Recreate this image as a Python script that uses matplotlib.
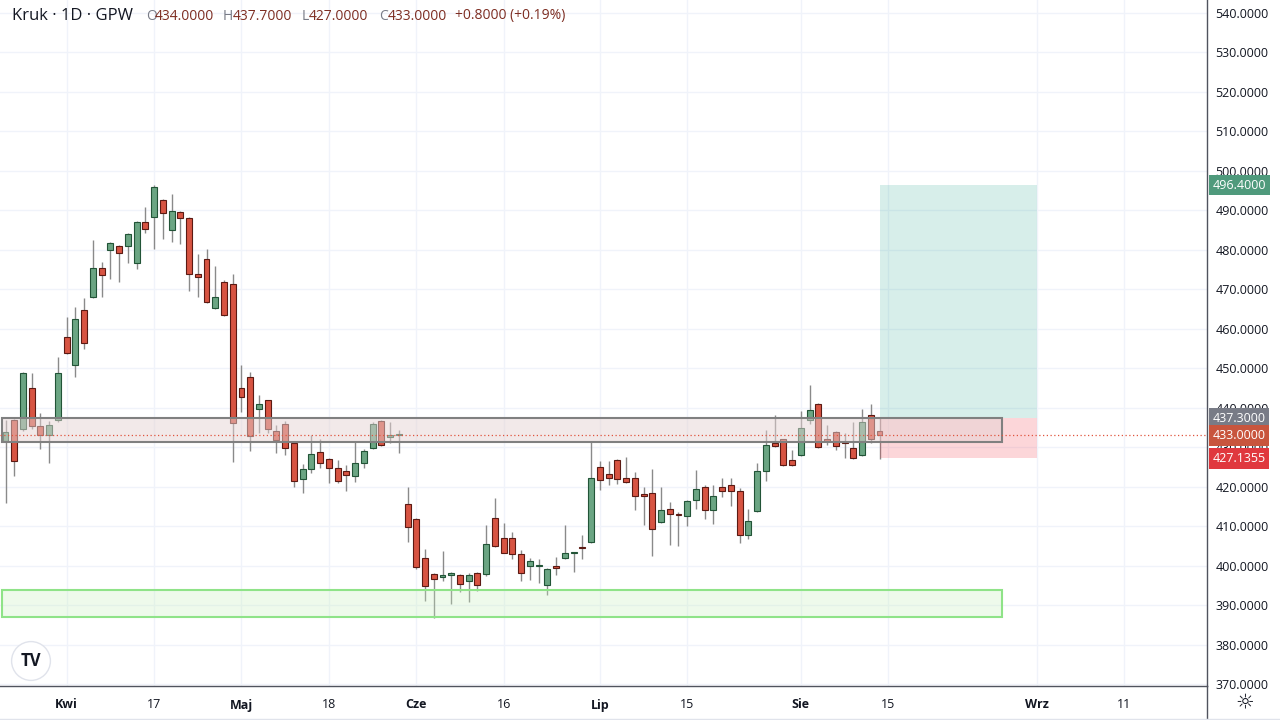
import matplotlib.pyplot as plt
import matplotlib.transforms as mtransforms
from matplotlib.patches import Rectangle
from matplotlib.lines import Line2D
import numpy as np

plt.rcParams['font.family'] = ['Open Sans', 'DejaVu Sans']

# daily candles, Kruk (GPW), oldest first
opens = [431.5, 436.8, 434.7, 444.9, 435.4, 433.0, 436.8, 458.0, 450.8, 464.8,
         468.1, 475.5, 479.9, 481.0, 481.0, 476.6, 487.0, 488.3, 492.5, 484.9,
         489.7, 488.1, 473.9, 477.6, 465.3, 471.9, 471.4, 445.0, 447.8, 439.7,
         441.9, 434.1, 435.9, 431.1, 422.0, 424.4, 428.8, 427.0, 424.8, 423.9,
         422.8, 426.0, 429.7, 436.7, 432.6, 433.0, 415.5, 411.8, 401.9, 397.9,
         397.2, 397.6, 397.5, 396.0, 398.1, 398.0, 412.0, 407.1, 407.1, 403.0,
         399.9, 400.0, 395.2, 400.0, 402.0, 403.2, 404.5, 406.0, 425.1, 423.1,
         426.8, 422.1, 422.1, 418.1, 418.4, 411.0, 414.4, 413.2, 412.6, 416.5,
         419.9, 414.0, 419.9, 420.3, 418.9, 407.7, 413.8, 424.0, 431.1, 432.0,
         426.8, 427.9, 437.0, 441.0, 432.2, 433.9, 431.3, 429.9, 427.9, 438.1,
         434.0]
highs = [437.0, 437.2, 449.0, 448.7, 438.6, 436.6, 452.8, 463.0, 465.6, 467.9,
         482.4, 477.0, 482.0, 481.2, 484.2, 487.2, 490.9, 496.4, 493.0, 494.2,
         489.9, 488.3, 479.0, 480.3, 476.0, 472.3, 473.9, 450.9, 449.0, 443.1,
         442.0, 435.5, 436.6, 431.3, 425.8, 433.2, 432.0, 427.2, 426.7, 425.5,
         431.3, 429.6, 436.4, 437.0, 436.5, 434.3, 420.0, 412.0, 404.1, 398.1,
         403.8, 398.5, 398.0, 398.2, 398.3, 410.2, 417.1, 410.8, 408.5, 404.0,
         402.0, 401.6, 399.3, 402.2, 410.4, 403.5, 407.8, 431.3, 426.4, 426.4,
         427.0, 427.4, 423.8, 420.0, 424.5, 419.8, 416.2, 413.5, 416.6, 424.1,
         420.4, 420.4, 422.3, 422.1, 419.6, 414.3, 426.1, 434.3, 438.1, 432.2,
         429.2, 439.2, 445.7, 441.2, 435.5, 434.1, 433.7, 436.4, 439.6, 441.0,
         437.7]
lows = [415.9, 422.8, 434.0, 434.7, 429.5, 425.9, 436.5, 453.6, 447.7, 454.8,
        467.8, 468.0, 472.7, 471.8, 476.6, 475.2, 484.3, 480.1, 482.8, 482.0,
        481.5, 469.5, 468.0, 466.6, 465.0, 463.2, 426.2, 438.9, 429.0, 433.7,
        433.7, 428.6, 428.0, 419.8, 418.4, 423.5, 424.7, 421.0, 421.0, 418.9,
        421.2, 424.8, 429.5, 430.3, 431.1, 428.6, 406.0, 399.2, 391.0, 386.7,
        396.0, 390.4, 393.4, 390.8, 393.6, 397.3, 404.7, 403.1, 401.6, 396.1,
        396.3, 395.5, 392.5, 397.6, 401.8, 398.4, 401.6, 405.8, 419.2, 420.4,
        420.8, 421.0, 414.2, 410.2, 402.4, 410.8, 405.2, 405.0, 410.0, 414.3,
        411.7, 410.6, 417.5, 415.1, 405.8, 406.8, 413.6, 421.4, 430.1, 425.3,
        425.3, 427.7, 435.8, 429.8, 430.5, 429.3, 427.3, 427.1, 427.7, 431.0,
        427.0]
closes = [433.9, 426.4, 448.9, 435.4, 433.0, 435.7, 448.7, 453.9, 462.5, 456.4,
          475.5, 473.5, 481.8, 479.2, 484.0, 487.0, 485.4, 496.0, 489.4, 489.9,
          488.1, 473.9, 473.1, 466.8, 468.1, 463.4, 436.2, 442.8, 432.9, 440.9,
          434.7, 431.9, 429.8, 421.5, 424.5, 428.2, 426.0, 424.8, 421.4, 422.9,
          426.0, 429.1, 436.0, 430.5, 433.1, 433.0, 409.8, 399.7, 394.8, 396.5,
          397.6, 398.2, 395.4, 397.7, 395.2, 405.6, 404.9, 403.3, 403.0, 398.1,
          401.2, 400.0, 399.2, 399.4, 403.3, 403.4, 404.4, 422.1, 421.6, 422.3,
          421.9, 421.1, 417.6, 417.6, 409.2, 414.1, 413.2, 412.7, 416.4, 419.5,
          414.0, 417.6, 418.9, 418.9, 407.7, 411.3, 424.0, 430.5, 430.3, 425.5,
          425.5, 434.8, 439.4, 430.0, 431.6, 430.3, 431.0, 427.3, 436.4, 432.2,
          433.0]

# time axis: bar index of each label (future part runs on calendar days)
tick_idx = [7, 17, 27, 37, 47, 57, 68, 78, 91, 101, 118, 128]
tick_txt = ['Kwi', '17', 'Maj', '18', 'Cze', '16', 'Lip', '15', 'Sie', '15', 'Wrz', '11']
month_txt = ['Kwi', 'Maj', 'Cze', 'Lip', 'Sie', 'Wrz']

# drawings
resist_zone = (431.3, 437.3)
support_zone = (387.0, 393.7)
zone_end = 114.0
entry, target, stop = 437.3, 496.4, 427.1355
pos_start, pos_end = 100.0, 118.0
last_price = 433.0

UP, DOWN = '#6ba583', '#d75442'
UP_EDGE, DOWN_EDGE = '#225437', '#5b1a13'
GRID = '#f0f3fa'
TXT = '#131722'

fig = plt.figure(figsize=(12.8, 7.2), dpi=100)
ax = fig.add_axes([0, 34 / 720, 1207 / 1280, 686 / 720])

o = np.array(opens); h = np.array(highs); l = np.array(lows); c = np.array(closes)
x = np.arange(len(o))
up = c >= o

ax.vlines(x, l, h, color='#8a8a8a', lw=1, zorder=2)
body_lo = np.minimum(o, c)
body_h = np.maximum(np.abs(c - o), 0.25)
ax.bar(x[up], body_h[up], bottom=body_lo[up], width=0.68, color=UP,
       edgecolor=UP_EDGE, linewidth=0.8, zorder=3)
ax.bar(x[~up], body_h[~up], bottom=body_lo[~up], width=0.68, color=DOWN,
       edgecolor=DOWN_EDGE, linewidth=0.8, zorder=3)

# long position tool
ax.add_patch(Rectangle((pos_start, entry), pos_end - pos_start, target - entry,
                       facecolor='#089981', alpha=0.16, edgecolor='none', zorder=4))
ax.add_patch(Rectangle((pos_start, stop), pos_end - pos_start, entry - stop,
                       facecolor='#f23645', alpha=0.2, edgecolor='none', zorder=4))

# zones
ax.add_patch(Rectangle((-0.43, resist_zone[0]), zone_end + 0.43, resist_zone[1] - resist_zone[0],
                       facecolor='#e6d4d4', alpha=0.5, edgecolor='none', zorder=5))
ax.add_patch(Rectangle((-0.43, resist_zone[0]), zone_end + 0.43, resist_zone[1] - resist_zone[0],
                       facecolor='none', edgecolor='#808080', lw=1.5, zorder=6))
ax.add_patch(Rectangle((-0.43, support_zone[0]), zone_end + 0.43, support_zone[1] - support_zone[0],
                       facecolor='#c8f0c0', alpha=0.3, edgecolor='none', zorder=5))
ax.add_patch(Rectangle((-0.43, support_zone[0]), zone_end + 0.43, support_zone[1] - support_zone[0],
                       facecolor='none', edgecolor='#8fe388', lw=1.5, zorder=6))

ax.axhline(last_price, color='#e0553f', lw=0.9, ls=(0, (1, 2)), zorder=6)

ax.set_xlim(-0.63, 137.47)
ax.set_ylim(369.5, 543.29)

ax.set_yticks(np.arange(370, 541, 10))
ax.yaxis.set_major_formatter(plt.FuncFormatter(lambda v, p: f'{v:.4f}'))
ax.yaxis.tick_right()
ax.set_xticks(tick_idx)
ax.set_xticklabels(tick_txt)
for lab in ax.get_xticklabels():
    if lab.get_text() in month_txt:
        lab.set_fontweight('bold')
ax.tick_params(axis='x', length=0, pad=9, labelsize=9, colors=TXT)
ax.tick_params(axis='y', length=0, pad=6, labelsize=9, colors=TXT)
ax.grid(True, color=GRID, lw=1)
ax.set_axisbelow(True)
for s in ['top', 'left']:
    ax.spines[s].set_visible(False)
for s in ['right', 'bottom']:
    ax.spines[s].set_color('#50535e')
    ax.spines[s].set_linewidth(1)

# price labels on the axis
blend = mtransforms.blended_transform_factory(ax.transAxes, ax.transData)
for val, col in [(target, '#4f9a7c'), (entry, '#787b86'),
                 (last_price, '#c8553d'), (stop, '#e0383e')]:
    ax.text(1.0045, val, f'{val:.4f}', transform=blend, ha='left', va='center',
            color='white', fontsize=9, clip_on=False, zorder=10,
            bbox=dict(boxstyle='square,pad=0.3', fc=col, ec='none'))

# header
def px(xp, yp):
    return xp / 1280, 1 - yp / 720

fig.text(*px(12, 16), 'Kruk · 1D · GPW', fontsize=12, color=TXT, va='center')
parts = [(146, 'O', '#787b86'), (155, '434.0000', '#7d2d22'),
         (223, 'H', '#787b86'), (233, '437.7000', '#7d2d22'),
         (302, 'L', '#787b86'), (309, '427.0000', '#7d2d22'),
         (379, 'C', '#787b86'), (388, '433.0000', '#7d2d22'),
         (455, '+0.8000 (+0.19%)', '#7d2d22')]
for xp, t, col in parts:
    fig.text(*px(xp, 16), t, fontsize=10, color=col, va='center')

# logo and settings icon
fig.text(*px(31, 661), 'TV', fontsize=12, fontweight='bold', color='#131722',
         ha='center', va='center',
         bbox=dict(boxstyle='circle,pad=0.55', fc='white', ec='#e0e3eb', lw=1))
fig.text(*px(1245, 702), '☼', fontsize=15, color=TXT, ha='center', va='center',
         family='DejaVu Sans')
fig.add_artist(Line2D([1207 / 1280, 1207 / 1280], [0, 34 / 720], color='#50535e', lw=1))
fig.add_artist(Line2D([0, 1], [1.5 / 720, 1.5 / 720], color='#e0e3eb', lw=1))

fig.savefig('out.png', dpi=100)
